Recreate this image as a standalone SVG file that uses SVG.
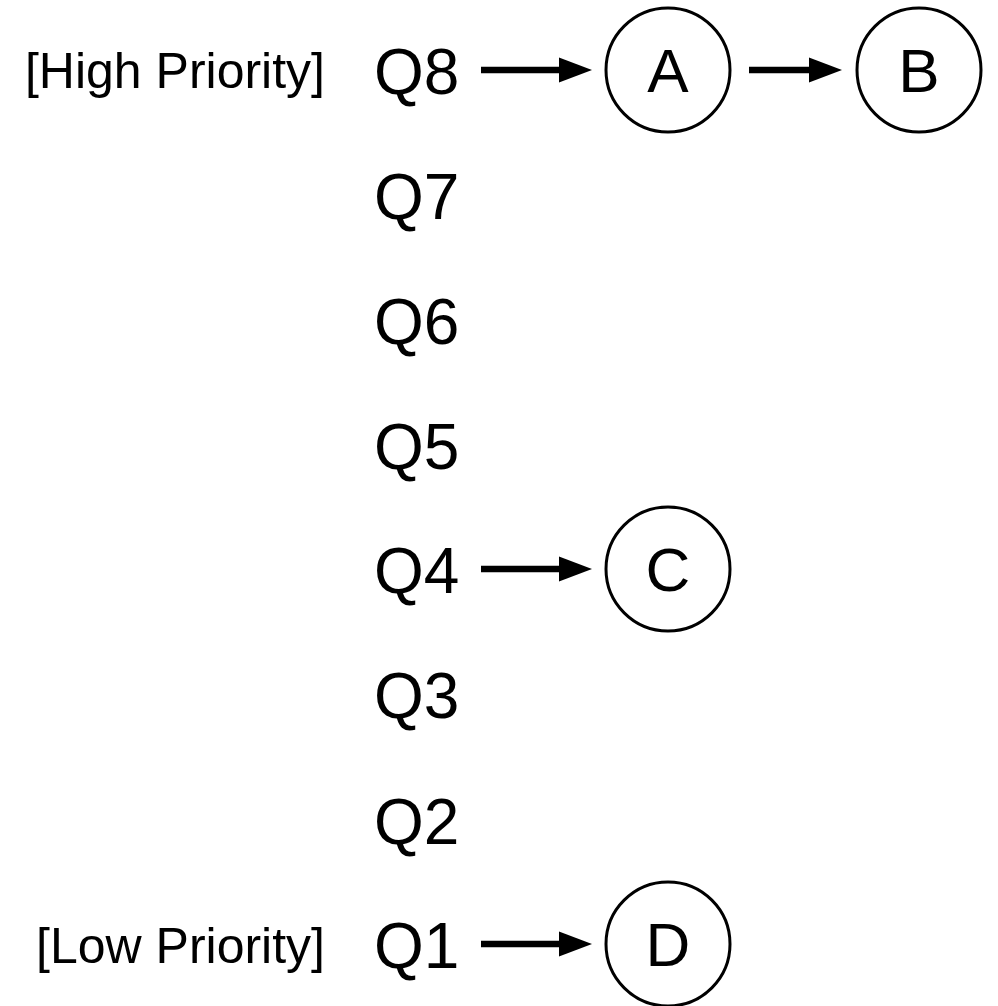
<svg xmlns="http://www.w3.org/2000/svg" width="998" height="1006" viewBox="0 0 998 1006">
<style>
.q{font-family:"Liberation Sans",Arial,sans-serif;font-size:64px;fill:#000}
.lbl{font-family:"Liberation Sans",Arial,sans-serif;font-size:50px;fill:#000;text-anchor:end}
.node circle{fill:#fff;stroke:#000;stroke-width:3}
.node text{font-family:"Liberation Sans",Arial,sans-serif;font-size:62px;fill:#000;text-anchor:middle}
.edge{stroke:#000;stroke-width:6.5;fill:none}
.head{fill:#000}
</style>
<rect width="998" height="1006" fill="#fff"/>
<g id="labels">
<text class="lbl" x="325" y="88">[High Priority]</text>
<text class="lbl" x="325" y="963">[Low Priority]</text>
<text class="q" x="374" y="94">Q8</text>
<text class="q" x="374" y="219">Q7</text>
<text class="q" x="374" y="344">Q6</text>
<text class="q" x="374" y="469">Q5</text>
<text class="q" x="374" y="593">Q4</text>
<text class="q" x="374" y="718">Q3</text>
<text class="q" x="374" y="844">Q2</text>
<text class="q" x="374" y="968">Q1</text>
</g>
<g id="connectors">
<line class="edge" x1="481" y1="70" x2="562" y2="70"/>
<polygon class="head" points="559,57.5 592,70 559,82.5"/>
<line class="edge" x1="749" y1="70" x2="812" y2="70"/>
<polygon class="head" points="809,57.5 842,70 809,82.5"/>
<line class="edge" x1="481" y1="569" x2="562" y2="569"/>
<polygon class="head" points="559,556.5 592,569 559,581.5"/>
<line class="edge" x1="481" y1="944" x2="562" y2="944"/>
<polygon class="head" points="559,931.5 592,944 559,956.5"/>
</g>
<g id="node-A" class="node"><circle cx="668" cy="70" r="62"/><text x="668" y="92">A</text></g>
<g id="node-B" class="node"><circle cx="919" cy="70" r="62"/><text x="919" y="92">B</text></g>
<g id="node-C" class="node"><circle cx="668" cy="569" r="62"/><text x="668" y="591">C</text></g>
<g id="node-D" class="node"><circle cx="668" cy="944" r="62"/><text x="668" y="966">D</text></g>
</svg>
